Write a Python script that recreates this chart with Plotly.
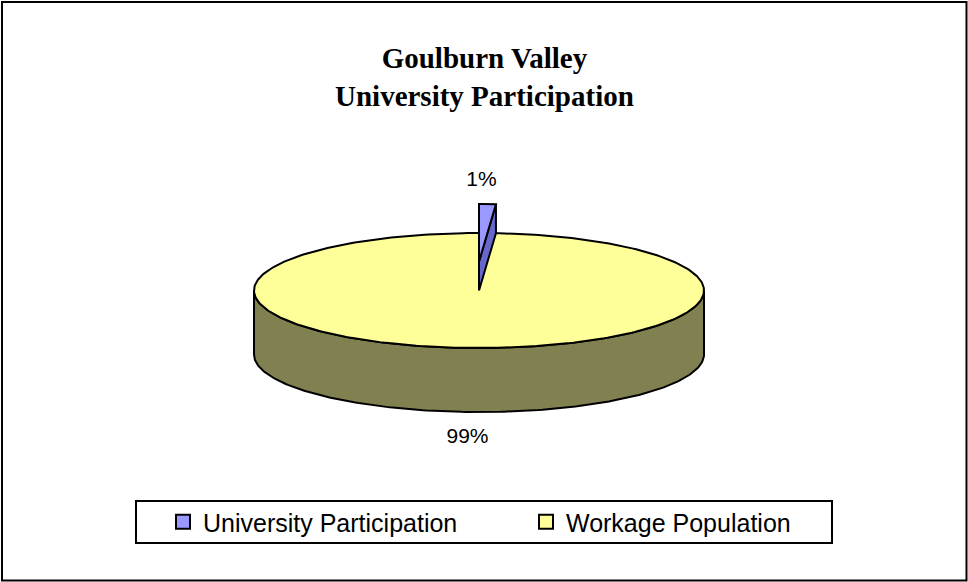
import numpy as np
import plotly.graph_objects as go

# ---------------- data ----------------
labels = ["University Participation", "Workage Population"]
values = [1.2, 98.8]
top_colors = ["#9999FF", "#FFFF99"]
side_colors = ["#6666CC", "#808050"]
title_text = "Goulburn Valley<br>University Participation"

# ---------------- geometry / style ----------------
W, H = 968, 582
cx, cy, rx, ry, depth = 479.0, 290.5, 225.0, 57.5, 64.0
explode_px = [29.0, 0.0]
LINE = dict(color="black", width=2)

total = float(sum(values))
fracs = [v / total for v in values]
edges = np.concatenate([[0.0], np.cumsum(fracs) * 360.0])


def arc(a0, a1, dy=0.0, n=None):
    if n is None:
        n = max(2, int(abs(a1 - a0) / 1.0) + 2)
    phi = np.radians(np.linspace(a0, a1, n))
    return cx + rx * np.sin(phi), cy - ry * np.cos(phi) + dy


fig = go.Figure()

# back-to-front drawing: exploded slices first
order = sorted(range(len(values)), key=lambda i: -explode_px[i])
for i in order:
    a0, a1 = edges[i], edges[i + 1]
    up = -explode_px[i]
    ccx, ccy = cx, cy + up
    # visible radial face at end angle (if it faces the viewer)
    if a1 < 90 and explode_px[i] > 0:
        ex, ey = arc(a1, a1, up, 2)
        px = [ccx, ex[0], ex[0], ccx, ccx]
        py = [ccy, ey[0], ey[0] + depth, ccy + depth, ccy]
        fig.add_trace(go.Scatter(x=px, y=py, mode="lines", fill="toself",
                                 fillcolor=side_colors[i], line=LINE,
                                 showlegend=False, hoverinfo="skip"))
    # front outer side
    s0, s1 = max(a0, 90.0), min(a1, 270.0)
    if s1 > s0:
        tx, ty = arc(s0, s1, up)
        bx, by = arc(s1, s0, up + depth)
        fig.add_trace(go.Scatter(x=np.concatenate([tx, bx, tx[:1]]),
                                 y=np.concatenate([ty, by, ty[:1]]),
                                 mode="lines", fill="toself",
                                 fillcolor=side_colors[i], line=LINE,
                                 showlegend=False, hoverinfo="skip"))
    # top face
    tx, ty = arc(a0, a1, up)
    fig.add_trace(go.Scatter(x=np.concatenate([[ccx], tx, [ccx]]),
                             y=np.concatenate([[ccy], ty, [ccy]]),
                             mode="lines", fill="toself",
                             fillcolor=top_colors[i], line=LINE,
                             showlegend=False, hoverinfo="skip"))

# percentage labels
for i in range(len(values)):
    mid = (edges[i] + edges[i + 1]) / 2.0
    mx, my = arc(mid, mid, 0, 2)
    if np.cos(np.radians(mid)) > 0:
        ly = my[0] - explode_px[i] - 23
        lx = mx[0] - 6
    else:
        ly = my[0] + depth + 26
        lx = mx[0] - 3
    fig.add_trace(go.Scatter(x=[lx], y=[ly], mode="text",
                             text=[f"{round(fracs[i] * 100)}%"],
                             textfont=dict(family="Liberation Sans, Arial", size=21, color="black"),
                             showlegend=False, hoverinfo="skip"))

# legend entries
for i in range(len(values)):
    fig.add_trace(go.Scatter(x=[None], y=[None], mode="markers", name=labels[i],
                             marker=dict(symbol="square", size=14, color=top_colors[i],
                                         line=dict(color="black", width=2))))

fig.add_annotation(x=484, y=77, xref="x", yref="y", text=f"<b>{title_text}</b>",
                   showarrow=False, yanchor="middle",
                   font=dict(family="Liberation Serif, Times New Roman", size=29, color="black"))

fig.add_shape(type="rect", x0=2, y0=2, x1=966.5, y1=580.5, xref="x", yref="y",
              line=LINE, layer="below")
fig.add_shape(type="rect", x0=136, y0=501, x1=832, y1=543, xref="x", yref="y",
              line=LINE, layer="below")

fig.update_layout(
    width=W, height=H,
    margin=dict(l=0, r=0, t=0, b=0),
    paper_bgcolor="white", plot_bgcolor="white",
    xaxis=dict(range=[0, W], visible=False, fixedrange=True),
    yaxis=dict(range=[H, 0], visible=False, fixedrange=True),
    showlegend=True,
    legend=dict(orientation="h", x=(183 - 20) / W, xanchor="left",
                y=1 - 522 / H, yanchor="middle",
                bgcolor="rgba(0,0,0,0)", borderwidth=0,
                entrywidth=318, entrywidthmode="pixels",
                font=dict(family="Liberation Sans, Arial", size=25, color="black")),
)

fig.write_html("out.html", config={"displayModeBar": False},
               post_script="document.body.style.margin='0';document.body.style.overflow='hidden';")
